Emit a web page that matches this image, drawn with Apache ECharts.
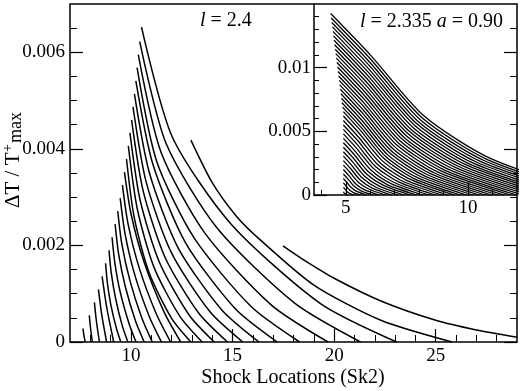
<!DOCTYPE html>
<html>
<head>
<meta charset="utf-8">
<script src="https://cdn.jsdelivr.net/npm/echarts@6/dist/echarts.min.js"></script>
<style>
  html, body { margin: 0; padding: 0; background: #fff; }
  #chart { width: 520px; height: 391px; }
</style>
</head>
<body>
<div id="chart"></div>
<script>
  // tick values
  const mainXTicks = [10, 15, 20, 25]
  const mainXMinor = [8, 9, 11, 12, 13, 14, 16, 17, 18, 19, 21, 22, 23, 24, 26, 27, 28]
  const mainYTicks = [0, 0.002, 0.004, 0.006]
  const mainYMinor = [0.0005, 0.001, 0.0015, 0.0025, 0.003, 0.0035, 0.0045, 0.005, 0.0055, 0.0065]
  const insetXTicks = [5, 10]
  const insetXMinor = [4, 6, 7, 8, 9, 11]
  const insetYTicks = [0, 0.005, 0.01]
  const insetYMinor = [0.001, 0.002, 0.003, 0.004, 0.006, 0.007, 0.008, 0.009, 0.011, 0.012, 0.013, 0.014]

  // main panel (l = 2.4): one list of [x, y] per curve
  const mainCurves = [
    [[7.64, 0.00028], [7.68, 0.00015], [7.75, 0]],
    [[7.95, 0.00055], [8.01, 0.00029], [8.1, 0]],
    [[8.2, 0.00082], [8.3, 0.00043], [8.45, 0]],
    [[8.4, 0.00109], [8.56, 0.00057], [8.8, 0]],
    [[8.58, 0.00136], [8.81, 0.00071], [9.15, 0]],
    [[8.75, 0.00163], [8.84, 0.00122], [9.01, 0.00077], [9.28, 0.00029], [9.5, 0]],
    [[8.92, 0.0019], [9.03, 0.00143], [9.25, 0.00089], [9.57, 0.00034], [9.85, 0]],
    [[9.07, 0.00217], [9.21, 0.00163], [9.48, 0.00102], [9.9, 0.00039], [10.25, 0]],
    [[9.22, 0.00244], [9.39, 0.00183], [9.72, 0.00115], [10.22, 0.00044], [10.65, 0]],
    [[9.35, 0.00271], [9.55, 0.00203], [9.95, 0.00127], [10.54, 0.00049], [11.05, 0]],
    [[9.47, 0.00298], [9.71, 0.00224], [10.18, 0.0014], [10.89, 0.00054], [11.5, 0]],
    [[9.58, 0.00325], [9.86, 0.00244], [10.41, 0.00153], [11.24, 0.00059], [11.95, 0]],
    [[9.68, 0.00352], [10.01, 0.00264], [10.65, 0.00165], [11.62, 0.00063], [12.45, 0]],
    [[9.78, 0.00379], [10.16, 0.00258], [10.89, 0.00144], [12.0, 0.00049], [12.95, 0]],
    [[9.87, 0.00406], [10.31, 0.00276], [11.14, 0.00154], [12.41, 0.00053], [13.5, 0]],
    [[9.95, 0.00433], [10.45, 0.00294], [11.4, 0.00165], [12.86, 0.00056], [14.1, 0]],
    [[10.03, 0.0046], [10.6, 0.00313], [11.68, 0.00175], [13.33, 0.0006], [14.75, 0]],
    [[10.1, 0.00487], [10.75, 0.00331], [11.99, 0.00185], [13.88, 0.00063], [15.5, 0]],
    [[10.17, 0.00514], [10.91, 0.0035], [12.32, 0.00195], [14.46, 0.00067], [16.3, 0]],
    [[10.24, 0.00541], [11.08, 0.00368], [12.68, 0.00206], [15.11, 0.0007], [17.2, 0]],
    [[10.3, 0.00568], [11.26, 0.00375], [13.1, 0.00216], [15.9, 0.00074], [18.3, 0]],
    [[10.36, 0.00595], [11.48, 0.00393], [13.63, 0.00226], [16.9, 0.00077], [19.7, 0]],
    [[10.43, 0.00622], [11.73, 0.00411], [14.24, 0.00236], [18.04, 0.00081], [21.3, 0]],
    [[10.52, 0.00652], [12.03, 0.00425], [14.91, 0.00245], [19.31, 0.0008], [23.07, 0]],
    [[12.95, 0.00418], [14, 0.0033], [15.2, 0.0026], [16.35, 0.00212], [19, 0.00118], [22.3, 0.00045], [25.8, 0]],
    [[17.48, 0.00199], [18.5, 0.0017], [20, 0.00132], [22.3, 0.00085], [25, 0.00045], [27, 0.00025], [29, 0.0001]]
  ]

  // inset (l = 2.335, a = 0.90)
  const insetCurves = [
    [[4.38, 0.01425], [6.018, 0.01097], [8.202, 0.0062], [10.932, 0.00285], [15.3, 0]],
    [[4.403, 0.0139], [6.0, 0.0107], [8.128, 0.00605], [10.789, 0.00278], [15.047, 0]],
    [[4.426, 0.01355], [5.981, 0.01043], [8.054, 0.00589], [10.646, 0.00271], [14.792, 0]],
    [[4.45, 0.0132], [5.963, 0.01016], [7.98, 0.00574], [10.502, 0.00264], [14.536, 0]],
    [[4.473, 0.01285], [5.944, 0.00989], [7.906, 0.00559], [10.358, 0.00257], [14.281, 0]],
    [[4.496, 0.0125], [5.925, 0.00963], [7.831, 0.00544], [10.213, 0.0025], [14.025, 0]],
    [[4.519, 0.01215], [5.907, 0.00936], [7.757, 0.00529], [10.07, 0.00243], [13.77, 0]],
    [[4.542, 0.0118], [5.888, 0.00909], [7.682, 0.00513], [9.925, 0.00236], [13.514, 0]],
    [[4.565, 0.01145], [5.869, 0.00882], [7.608, 0.00498], [9.781, 0.00229], [13.259, 0]],
    [[4.589, 0.0111], [5.851, 0.00855], [7.534, 0.00483], [9.637, 0.00222], [13.003, 0]],
    [[4.612, 0.01075], [5.832, 0.00828], [7.46, 0.00468], [9.494, 0.00215], [12.748, 0]],
    [[4.635, 0.0104], [5.814, 0.00801], [7.385, 0.00452], [9.349, 0.00208], [12.492, 0]],
    [[4.658, 0.01005], [5.795, 0.00774], [7.311, 0.00437], [9.205, 0.00201], [12.237, 0]],
    [[4.681, 0.0097], [5.776, 0.00747], [7.236, 0.00422], [9.061, 0.00194], [11.981, 0]],
    [[4.704, 0.00935], [5.757, 0.0072], [7.162, 0.00407], [8.917, 0.00187], [11.726, 0]],
    [[4.728, 0.009], [5.739, 0.00693], [7.088, 0.00392], [8.773, 0.0018], [11.47, 0]],
    [[4.751, 0.00865], [5.721, 0.00666], [7.013, 0.00376], [8.629, 0.00173], [11.215, 0]],
    [[4.774, 0.0083], [5.702, 0.00639], [6.939, 0.00361], [8.485, 0.00166], [10.959, 0]],
    [[4.797, 0.00795], [5.683, 0.00612], [6.864, 0.00346], [8.341, 0.00159], [10.704, 0]],
    [[4.82, 0.0076], [5.664, 0.00585], [6.79, 0.00331], [8.197, 0.00152], [10.448, 0]],
    [[4.843, 0.00725], [5.646, 0.00558], [6.716, 0.00315], [8.053, 0.00145], [10.193, 0]],
    [[4.866, 0.0069], [5.627, 0.00531], [6.641, 0.003], [7.909, 0.00138], [9.937, 0]],
    [[4.9, 0.00655], [5.617, 0.00504], [6.574, 0.00285], [7.769, 0.00131], [9.682, 0]],
    [[4.9, 0.0062], [5.579, 0.00477], [6.484, 0.0027], [7.616, 0.00124], [9.426, 0]],
    [[4.9, 0.00585], [5.541, 0.0045], [6.395, 0.00254], [7.463, 0.00117], [9.171, 0]],
    [[4.9, 0.0055], [5.502, 0.00424], [6.305, 0.00239], [7.309, 0.0011], [8.915, 0]],
    [[4.9, 0.00515], [5.464, 0.00397], [6.216, 0.00224], [7.156, 0.00103], [8.66, 0]],
    [[4.9, 0.0048], [5.426, 0.0037], [6.126, 0.00209], [7.002, 0.00096], [8.404, 0]],
    [[4.9, 0.00445], [5.387, 0.00343], [6.037, 0.00194], [6.849, 0.00089], [8.149, 0]],
    [[4.9, 0.0041], [5.349, 0.00316], [5.948, 0.00178], [6.696, 0.00082], [7.893, 0]],
    [[4.9, 0.00375], [5.311, 0.00289], [5.858, 0.00163], [6.543, 0.00075], [7.638, 0]],
    [[4.9, 0.0034], [5.272, 0.00262], [5.769, 0.00148], [6.389, 0.00068], [7.382, 0]],
    [[4.9, 0.00305], [5.234, 0.00235], [5.679, 0.00133], [6.236, 0.00061], [7.127, 0]],
    [[4.9, 0.0027], [5.196, 0.00208], [5.59, 0.00117], [6.083, 0.00054], [6.871, 0]],
    [[4.9, 0.00235], [5.157, 0.00181], [5.501, 0.00102], [5.93, 0.00047], [6.616, 0]],
    [[4.9, 0.002], [5.119, 0.00154], [5.411, 0.00087], [5.776, 0.0004], [6.36, 0]],
    [[4.9, 0.00165], [5.081, 0.00127], [5.322, 0.00072], [5.623, 0.00033], [6.105, 0]],
    [[4.9, 0.0013], [5.042, 0.001], [5.232, 0.00057], [5.469, 0.00026], [5.849, 0]],
    [[4.9, 0.00095], [5.004, 0.00073], [5.143, 0.00041], [5.316, 0.00019], [5.594, 0]],
    [[4.9, 0.0006], [4.966, 0.00046], [5.053, 0.00026], [5.163, 0.00012], [5.338, 0]],
    [[4.9, 0.00025], [4.927, 0.00019], [4.964, 0.00011], [5.01, 0.00005], [5.083, 0]]
  ]

  const serif = "'Liberation Serif', 'DejaVu Serif', serif"
  const ink = '#000'

  function tickAxis (extra) {
    return Object.assign({
      type: 'value',
      splitLine: { show: false },
      axisLine: { show: false, onZero: false },
      axisTick: { show: true, inside: true, lineStyle: { color: ink, width: 1.2 } },
      axisLabel: { show: false }
    }, extra)
  }

  const labelStyle = { color: ink, fontFamily: serif, fontSize: 19 }

  const xAxis = [
    tickAxis({
      gridIndex: 0, min: 7, max: 29, position: 'bottom',
      axisTick: { show: true, inside: true, length: 13, customValues: mainXTicks, lineStyle: { color: ink, width: 1.2 } },
      axisLabel: Object.assign({ show: true, margin: 5, customValues: mainXTicks }, labelStyle)
    }),
    tickAxis({
      gridIndex: 0, min: 7, max: 29, position: 'bottom',
      axisTick: { show: true, inside: true, length: 7, customValues: mainXMinor, lineStyle: { color: ink, width: 1 } }
    }),
    tickAxis({
      gridIndex: 1, min: 3.7, max: 12, position: 'bottom',
      axisLine: { show: true, onZero: false, lineStyle: { color: ink, width: 1.5 } },
      axisTick: { show: true, inside: true, length: 13, customValues: insetXTicks, lineStyle: { color: ink, width: 1.2 } },
      axisLabel: Object.assign({ show: true, margin: 4, customValues: insetXTicks }, labelStyle)
    }),
    tickAxis({
      gridIndex: 1, min: 3.7, max: 12, position: 'bottom',
      axisTick: { show: true, inside: true, length: 5, customValues: insetXMinor, lineStyle: { color: ink, width: 1 } }
    })
  ]

  const yAxis = [
    tickAxis({
      gridIndex: 0, min: 0, max: 0.007, position: 'left',
      axisTick: { show: true, inside: true, length: 13, customValues: mainYTicks, lineStyle: { color: ink, width: 1.2 } },
      axisLabel: Object.assign({ show: true, margin: 5, customValues: mainYTicks, formatter: v => String(v) }, labelStyle)
    }),
    tickAxis({
      gridIndex: 0, min: 0, max: 0.007, position: 'left',
      axisTick: { show: true, inside: true, length: 7, customValues: mainYMinor, lineStyle: { color: ink, width: 1 } }
    }),
    tickAxis({
      gridIndex: 0, min: 0, max: 0.007, position: 'right',
      axisTick: { show: true, inside: true, length: 13, customValues: mainYTicks, lineStyle: { color: ink, width: 1.2 } }
    }),
    tickAxis({
      gridIndex: 0, min: 0, max: 0.007, position: 'right',
      axisTick: { show: true, inside: true, length: 7, customValues: mainYMinor, lineStyle: { color: ink, width: 1 } }
    }),
    tickAxis({
      gridIndex: 1, min: 0, max: 0.015, position: 'left',
      axisLine: { show: true, onZero: false, lineStyle: { color: ink, width: 1.5 } },
      axisTick: { show: true, inside: true, length: 13, customValues: insetYTicks, lineStyle: { color: ink, width: 1.2 } },
      axisLabel: Object.assign({ show: true, margin: 3, customValues: insetYTicks, formatter: v => String(v) }, labelStyle)
    }),
    tickAxis({
      gridIndex: 1, min: 0, max: 0.015, position: 'left',
      axisTick: { show: true, inside: true, length: 5, customValues: insetYMinor, lineStyle: { color: ink, width: 1 } }
    })
  ]

  const series = []
  mainCurves.forEach((c, i) => {
    series.push({
      name: 'main' + i, type: 'line', xAxisIndex: 0, yAxisIndex: 0, data: c,
      showSymbol: false, silent: true, smooth: 0.25,
      lineStyle: { color: ink, width: 1.5 }
    })
  })
  insetCurves.forEach((c, i) => {
    series.push({
      name: 'inset' + i, type: 'line', xAxisIndex: 2, yAxisIndex: 4, data: c,
      showSymbol: false, silent: true, smooth: 0.25, clip: true,
      lineStyle: { color: ink, width: 1.3 }
    })
  })

  const chart = echarts.init(document.getElementById('chart'))
  chart.setOption({
    animation: false,
    backgroundColor: '#fff',
    grid: [
      { left: 70, right: 3, top: 4, bottom: 49, show: true, borderColor: ink, borderWidth: 1.5, backgroundColor: 'transparent' },
      { left: 314, right: 3, top: 4, bottom: 196, show: false }
    ],
    xAxis: xAxis,
    yAxis: yAxis,
    series: series,
    graphic: [
      {
        type: 'text', x: 200, y: 21,
        style: {
          text: '{i|l} = 2.4', fill: ink, fontFamily: serif, fontSize: 20,
          textVerticalAlign: 'middle', rich: { i: { fontStyle: 'italic', fontFamily: serif, fontSize: 20 } }
        }
      },
      {
        type: 'text', x: 360, y: 22,
        style: {
          text: '{i|l} = 2.335 {i|a} = 0.90', fill: ink, fontFamily: serif, fontSize: 20,
          textVerticalAlign: 'middle', rich: { i: { fontStyle: 'italic', fontFamily: serif, fontSize: 20 } }
        }
      },
      {
        type: 'text', x: 293, y: 378,
        style: {
          text: 'Shock Locations (Sk2)', fill: ink, fontFamily: serif, fontSize: 20,
          textAlign: 'center', textVerticalAlign: 'middle'
        }
      },
      {
        type: 'group', x: 13, y: 154, rotation: Math.PI / 2,
        children: [
          { type: 'text', x: -54, y: 0, style: { text: 'ΔT / T', fill: ink, fontFamily: serif, fontSize: 21, textVerticalAlign: 'middle' } },
          { type: 'text', x: 2, y: -5, style: { text: '+', fill: ink, fontFamily: serif, fontSize: 14, textVerticalAlign: 'middle' } },
          { type: 'text', x: 11, y: 3, style: { text: 'max', fill: ink, fontFamily: serif, fontSize: 18, textVerticalAlign: 'middle' } }
        ]
      }
    ]
  })
</script>
</body>
</html>
